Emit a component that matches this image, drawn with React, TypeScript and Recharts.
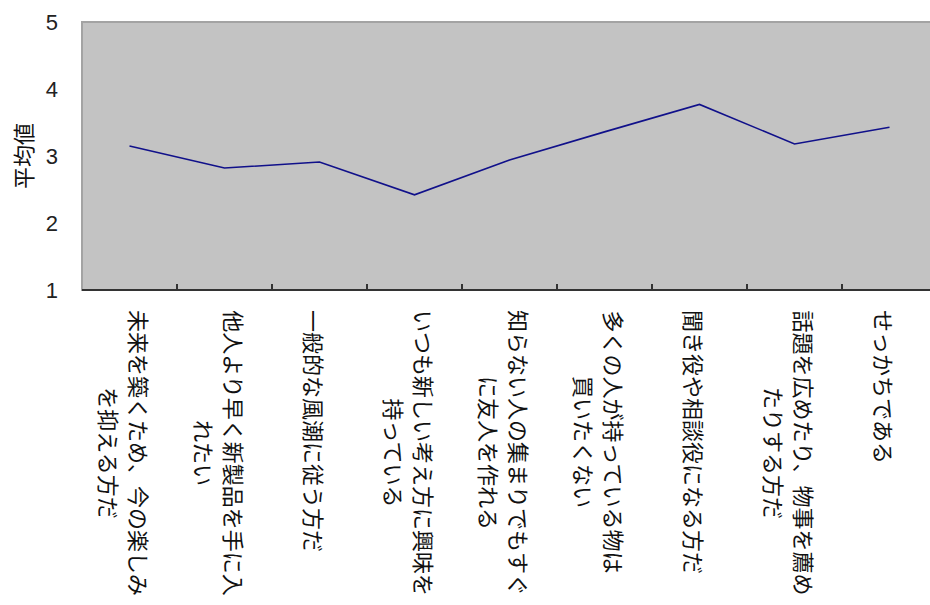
import { LineChart, Line, XAxis, YAxis, CartesianGrid, ReferenceArea } from "recharts";

const categories = [
  "未来を築くため、今の楽しみ\nを抑える方だ",
  "他人より早く新製品を手に入\nれたい",
  "一般的な風潮に従う方だ",
  "いつも新しい考え方に興味を\n持っている",
  "知らない人の集まりでもすぐ\nに友人を作れる",
  "多くの人が持っている物は\n買いたくない",
  "聞き役や相談役になる方だ",
  "話題を広めたり、物事を薦め\nたりする方だ",
  "せっかちである",
];
const averages = [3.15, 2.82, 2.91, 2.42, 2.94, 3.36, 3.77, 3.18, 3.43];
const yTicks = [1, 2, 3, 4, 5];
const yTitle = "平均値";

const data = categories.map((name, i) => ({ name, value: averages[i] }));

const JP_FONT = '"Noto Sans CJK JP", "Noto Sans CJK SC", sans-serif';

function CategoryTick(props: any) {
  const { x, y, payload, width, visibleTicksCount } = props;
  const half =
    typeof payload.offset === "number" && payload.offset > 0
      ? payload.offset
      : width / visibleTicksCount / 2;
  const lines = String(payload.value).split("\n");
  const longest = Math.max(...lines.map((l) => l.length));
  const fontSize = 22;
  const lineGap = 30;
  return (
    <g>
      <line x1={x + half} x2={x + half} y1={y} y2={y - 6} stroke="#333" strokeWidth={2} />
      <g transform={`translate(${x - 5}, ${y + 20}) rotate(90)`}>
        {lines.map((line, i) => (
          <text
            key={i}
            x={(longest * fontSize) / 2}
            y={(i - (lines.length - 1) / 2) * lineGap}
            textAnchor="middle"
            dominantBaseline="central"
            fontFamily={JP_FONT}
            fontSize={fontSize}
            fill="#111"
          >
            {line}
          </text>
        ))}
      </g>
    </g>
  );
}

function YTitle(props: any) {
  const vb = props.viewBox || { x: 0, y: 22, width: 82, height: 268 };
  const cx = vb.x + 22;
  const cy = vb.y + vb.height / 2;
  return (
    <text
      transform={`translate(${cx}, ${cy}) rotate(-90)`}
      textAnchor="middle"
      dominantBaseline="central"
      fontFamily={JP_FONT}
      fontSize={22}
      fill="#111"
    >
      {yTitle}
    </text>
  );
}

export default function App() {
  return (
    <div
      style={{
        position: "fixed",
        left: 0,
        top: 0,
        width: 930,
        height: 605,
        overflow: "hidden",
        background: "#fff",
      }}
    >
      <LineChart
        width={937}
        height={605}
        data={data}
        margin={{ top: 22, right: 0, bottom: 0, left: 0 }}
      >
        <CartesianGrid horizontal={false} vertical={false} fill="#c3c3c3" fillOpacity={1} />
        <ReferenceArea
          y1={1}
          y2={5}
          fill="none"
          stroke="#a3a3a3"
          strokeWidth={2}
          ifOverflow="visible"
        />
        <XAxis
          dataKey="name"
          scale="band"
          interval={0}
          height={315}
          tickLine={false}
          tickSize={0}
          tickMargin={0}
          axisLine={{ stroke: "#333", strokeWidth: 2 }}
          tick={<CategoryTick />}
        />
        <YAxis
          domain={[1, 5]}
          ticks={yTicks}
          width={82}
          axisLine={false}
          tickLine={false}
          tickSize={0}
          tickMargin={24}
          tick={{ fill: "#222", fontSize: 22, fontFamily: "Liberation Sans, Arial, sans-serif" }}
          label={<YTitle />}
        />
        <Line
          type="linear"
          dataKey="value"
          stroke="#10108a"
          strokeWidth={1.6}
          dot={false}
          activeDot={false}
          isAnimationActive={false}
        />
      </LineChart>
    </div>
  );
}
